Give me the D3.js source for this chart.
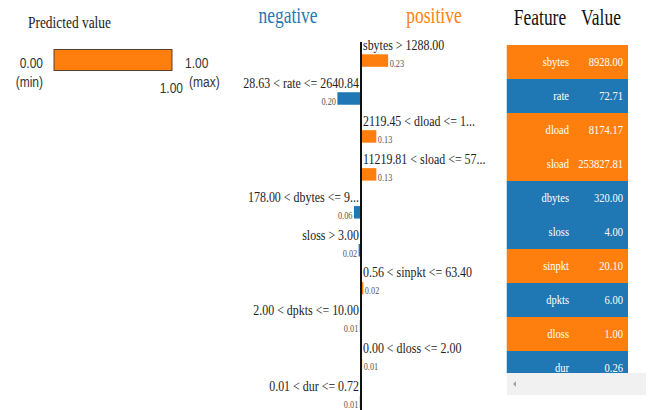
<!DOCTYPE html>
<html>
<head>
<meta charset="utf-8">
<script src="https://cdn.jsdelivr.net/npm/d3@7"></script>
<style>
  html, body { margin: 0; padding: 0; background: #fff; }
  svg { display: block; }
</style>
</head>
<body>
<svg id="chart" width="648" height="410"></svg>
<script>
// Explanation for a single prediction: condition labels, their weights, and raw feature values
const conditions = [
  "sbytes > 1288.00",
  "28.63 < rate <= 2640.84",
  "2119.45 < dload <= 1...",
  "11219.81 < sload <= 57...",
  "178.00 < dbytes <= 9...",
  "sloss > 3.00",
  "0.56 < sinpkt <= 63.40",
  "2.00 < dpkts <= 10.00",
  "0.00 < dloss <= 2.00",
  "0.01 < dur <= 0.72"
];
const weights = [0.23, -0.20, 0.13, 0.13, -0.06, -0.02, 0.02, -0.01, 0.01, -0.01];
const featureNames = ["sbytes", "rate", "dload", "sload", "dbytes", "sloss", "sinpkt", "dpkts", "dloss", "dur"];
const featureValues = ["8928.00", "72.71", "8174.17", "253827.81", "320.00", "4.00", "20.10", "6.00", "1.00", "0.26"];
const predMin = 0.00;
const predMax = 1.00;
const predValue = 1.00;

const ORANGE = "#ff7f0e";
const BLUE = "#1f77b4";
const SERIF = "'Liberation Serif', 'Times New Roman', serif";
const SANS = "'Liberation Sans', Arial, sans-serif";
const SX = 0.78; // narrow glyph width used for all text

const svg = d3.select("#chart");

// text helper: condensed glyphs anchored at (x, y)
function label(parent, x, y, anchor, size, family, fill, t) {
  return parent.append("text")
    .attr("transform", `translate(${x},${y}) scale(${SX},1)`)
    .attr("text-anchor", anchor)
    .style("font-family", family).style("font-size", size + "px")
    .attr("fill", fill)
    .text(t);
}

// ---- Predicted value panel ----
const pred = svg.append("g");
label(pred, 28, 28, "start", 17.2, SERIF, "#222", "Predicted value");

const px = d3.scaleLinear().domain([predMin, predMax]).range([54, 172]);
pred.append("rect")
  .attr("x", px(predMin)).attr("y", 49.5)
  .attr("width", px(predValue) - px(predMin)).attr("height", 21)
  .attr("fill", ORANGE).attr("stroke", "#5a4030").attr("stroke-width", 1);

label(pred, 43, 68, "end", 15.4, SANS, "#333", predMin.toFixed(2));
label(pred, 43, 87, "end", 15.4, SANS, "#333", "(min)");
label(pred, 185, 68, "start", 15.4, SANS, "#333", predMax.toFixed(2));
label(pred, 189, 87, "start", 15.4, SANS, "#333", "(max)");
label(pred, px(predValue) + 11, 93, "end", 15.4, SANS, "#333", predValue.toFixed(2));

// ---- Weight bars ----
const axisX = 361;
const w = d3.scaleLinear().domain([0, 1]).range([0, 118]);
const rowY = d3.scaleLinear().domain([0, 1]).range([54.3, 54.3 + 37.94]);
const barH = 12.5;

label(svg, 288, 23, "middle", 22.4, SERIF, BLUE, "negative");
label(svg, 434, 23, "middle", 22.4, SERIF, ORANGE, "positive");

const rows = svg.append("g").selectAll("g")
  .data(weights.map((v, i) => ({ v, i, label: conditions[i] })))
  .join("g");

rows.append("rect")
  .attr("x", d => d.v >= 0 ? axisX : axisX - w(-d.v))
  .attr("y", d => rowY(d.i))
  .attr("width", d => w(Math.abs(d.v)))
  .attr("height", barH)
  .attr("fill", d => d.v >= 0 ? ORANGE : BLUE);

rows.each(function (d) {
  const g = d3.select(this);
  const pos = d.v >= 0;
  label(g, pos ? axisX + 2 : axisX - 2, rowY(d.i) - 4.5,
    pos ? "start" : "end", 15.3, SERIF, "#222", d.label);
  label(g, pos ? axisX + w(d.v) + 1.5 : axisX - w(-d.v) - 1.5, rowY(d.i) + barH,
    pos ? "start" : "end", 10.6, SERIF, "#555", Math.abs(d.v).toFixed(2));
});

svg.append("line")
  .attr("x1", axisX).attr("x2", axisX).attr("y1", 42).attr("y2", 410)
  .attr("stroke", "#111").attr("stroke-width", 2);

// ---- Feature / value table ----
const tX0 = 506.5, tX1 = 628, tTop = 45, rowH = 34, viewBottom = 373;
label(svg, 540, 25, "middle", 22.4, SERIF, "#111", "Feature");
label(svg, 601, 25, "middle", 22.4, SERIF, "#111", "Value");

svg.append("defs").append("clipPath").attr("id", "tableClip")
  .append("rect").attr("x", tX0).attr("y", tTop)
  .attr("width", tX1 - tX0).attr("height", viewBottom - tTop);

const table = svg.append("g").attr("clip-path", "url(#tableClip)");
const trows = table.selectAll("g")
  .data(featureNames.map((n, i) => ({ n, i, val: featureValues[i], wt: weights[i] })))
  .join("g")
  .attr("transform", d => `translate(0,${tTop + d.i * rowH})`);

trows.append("rect")
  .attr("x", tX0).attr("y", 0).attr("width", tX1 - tX0).attr("height", rowH)
  .attr("fill", d => d.wt >= 0 ? ORANGE : BLUE);
trows.each(function (d) {
  const g = d3.select(this);
  label(g, 569, 21, "end", 13.5, SERIF, "#fff", d.n);
  label(g, 623, 21, "end", 13.5, SERIF, "#fff", d.val);
});

// horizontal scrollbar of the table container
svg.append("rect").attr("x", 507).attr("y", viewBottom).attr("width", 139).attr("height", 22)
  .attr("fill", "#f1f1f1");
svg.append("path").attr("d", `M516,${viewBottom + 8} L513,${viewBottom + 11} L516,${viewBottom + 14} Z`)
  .attr("fill", "#a3a3a3");
</script>
</body>
</html>
